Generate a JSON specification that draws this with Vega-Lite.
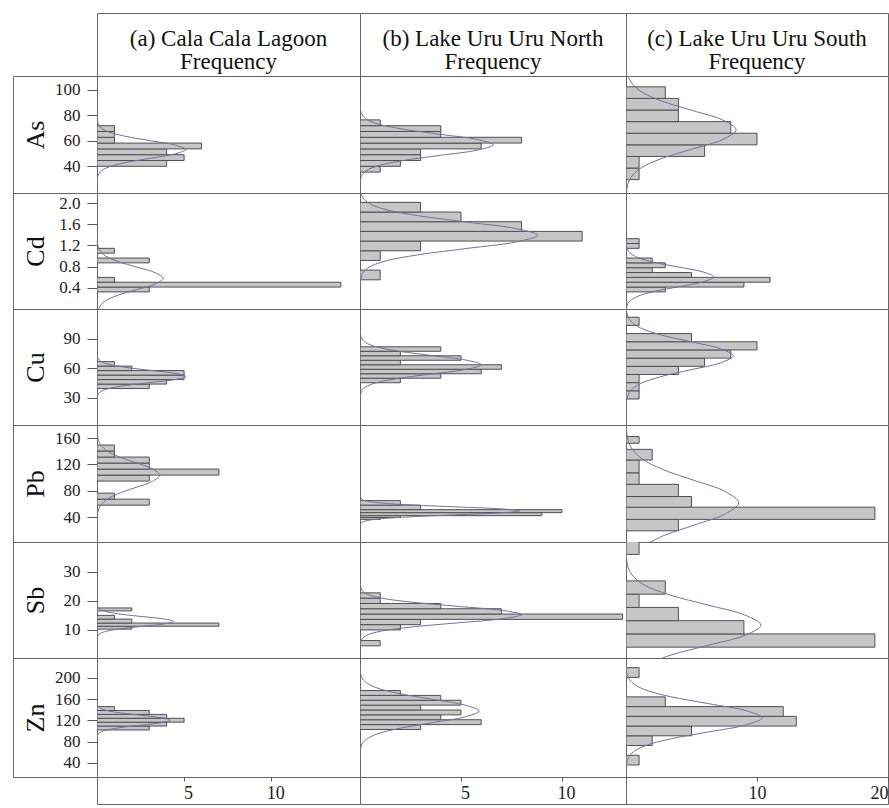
{
"$schema":"https://vega.github.io/schema/vega-lite/v6.json",
"padding":{"left":12,"top":12,"right":0,"bottom":0},
"columns":4,
"spacing":0,
"bounds":"flush",
"config":{
 "view":{"stroke":"#666666","strokeWidth":1},
 "concat":{"spacing":0},
 "font":"Liberation Serif",
 "axis":{"domain":false,"grid":false,"tickColor":"#555555","labelColor":"#222222","labelFont":"Liberation Serif","labelFontSize":17,"titleFont":"Liberation Serif","titleFontWeight":"normal","titleColor":"#111111"},
 "axisY":{"tickSize":10,"labelPadding":7,"titleFontSize":26,"titleX":-54,"titleBaseline":"alphabetic"},
 "axisX":{"tickSize":4,"labelPadding":3,"labelFontSize":18}
},
"datasets":{
"bars":[
{"s":"a","e":"As","y0":37.5,"y1":42.5,"n":4},{"s":"a","e":"As","y0":42.5,"y1":47.5,"n":5},{"s":"a","e":"As","y0":47.5,"y1":52.5,"n":4},{"s":"a","e":"As","y0":52.5,"y1":57.5,"n":6},{"s":"a","e":"As","y0":57.5,"y1":62.5,"n":1},{"s":"a","e":"As","y0":62.5,"y1":67.5,"n":1},{"s":"a","e":"As","y0":67.5,"y1":72.5,"n":1},
{"s":"a","e":"Cd","y0":0.25,"y1":0.35,"n":3},{"s":"a","e":"Cd","y0":0.35,"y1":0.45,"n":14},{"s":"a","e":"Cd","y0":0.45,"y1":0.55,"n":1},{"s":"a","e":"Cd","y0":0.85,"y1":0.95,"n":3},{"s":"a","e":"Cd","y0":1.05,"y1":1.15,"n":1},
{"s":"a","e":"Cu","y0":37.5,"y1":42.5,"n":3},{"s":"a","e":"Cu","y0":42.5,"y1":47.5,"n":4},{"s":"a","e":"Cu","y0":47.5,"y1":52.5,"n":5},{"s":"a","e":"Cu","y0":52.5,"y1":57.5,"n":5},{"s":"a","e":"Cu","y0":57.5,"y1":62.5,"n":2},{"s":"a","e":"Cu","y0":62.5,"y1":67.5,"n":1},
{"s":"a","e":"Pb","y0":55,"y1":65,"n":3},{"s":"a","e":"Pb","y0":65,"y1":75,"n":1},{"s":"a","e":"Pb","y0":95,"y1":105,"n":3},{"s":"a","e":"Pb","y0":105,"y1":115,"n":7},{"s":"a","e":"Pb","y0":115,"y1":125,"n":3},{"s":"a","e":"Pb","y0":125,"y1":135,"n":3},{"s":"a","e":"Pb","y0":135,"y1":145,"n":1},{"s":"a","e":"Pb","y0":145,"y1":155,"n":1},
{"s":"a","e":"Sb","y0":9.3,"y1":10.4,"n":2},{"s":"a","e":"Sb","y0":10.4,"y1":11.6,"n":7},{"s":"a","e":"Sb","y0":11.6,"y1":13.1,"n":2},{"s":"a","e":"Sb","y0":13.1,"y1":14.5,"n":1},{"s":"a","e":"Sb","y0":16.2,"y1":17.3,"n":2},
{"s":"a","e":"Zn","y0":100,"y1":108,"n":3},{"s":"a","e":"Zn","y0":108,"y1":116,"n":4},{"s":"a","e":"Zn","y0":116,"y1":124,"n":5},{"s":"a","e":"Zn","y0":124,"y1":132,"n":4},{"s":"a","e":"Zn","y0":132,"y1":140,"n":3},{"s":"a","e":"Zn","y0":140,"y1":148,"n":1},
{"s":"b","e":"As","y0":32.5,"y1":37.5,"n":1},{"s":"b","e":"As","y0":37.5,"y1":42.5,"n":2},{"s":"b","e":"As","y0":42.5,"y1":47.5,"n":3},{"s":"b","e":"As","y0":47.5,"y1":52.5,"n":3},{"s":"b","e":"As","y0":52.5,"y1":57.5,"n":6},{"s":"b","e":"As","y0":57.5,"y1":62.5,"n":8},{"s":"b","e":"As","y0":62.5,"y1":67.5,"n":4},{"s":"b","e":"As","y0":67.5,"y1":72.5,"n":4},{"s":"b","e":"As","y0":72.5,"y1":77.5,"n":1},
{"s":"b","e":"Cd","y0":0.5,"y1":0.7,"n":1},{"s":"b","e":"Cd","y0":0.9,"y1":1.1,"n":1},{"s":"b","e":"Cd","y0":1.1,"y1":1.3,"n":3},{"s":"b","e":"Cd","y0":1.3,"y1":1.5,"n":11},{"s":"b","e":"Cd","y0":1.5,"y1":1.7,"n":8},{"s":"b","e":"Cd","y0":1.7,"y1":1.9,"n":5},{"s":"b","e":"Cd","y0":1.9,"y1":2.1,"n":3},
{"s":"b","e":"Cu","y0":44,"y1":49,"n":2},{"s":"b","e":"Cu","y0":49,"y1":54,"n":4},{"s":"b","e":"Cu","y0":54,"y1":59,"n":6},{"s":"b","e":"Cu","y0":59,"y1":64,"n":7},{"s":"b","e":"Cu","y0":64,"y1":69,"n":2},{"s":"b","e":"Cu","y0":69,"y1":74,"n":5},{"s":"b","e":"Cu","y0":74,"y1":79,"n":2},{"s":"b","e":"Cu","y0":79,"y1":84,"n":4},
{"s":"b","e":"Pb","y0":31.3,"y1":34.4,"n":1},{"s":"b","e":"Pb","y0":34.4,"y1":37.5,"n":2},{"s":"b","e":"Pb","y0":37.5,"y1":42.5,"n":9},{"s":"b","e":"Pb","y0":42.5,"y1":47.5,"n":10},{"s":"b","e":"Pb","y0":47.5,"y1":55,"n":3},{"s":"b","e":"Pb","y0":55,"y1":62.5,"n":2},
{"s":"b","e":"Sb","y0":3,"y1":5,"n":1},{"s":"b","e":"Sb","y0":9,"y1":11,"n":2},{"s":"b","e":"Sb","y0":11,"y1":13,"n":3},{"s":"b","e":"Sb","y0":13,"y1":15,"n":13},{"s":"b","e":"Sb","y0":15,"y1":17,"n":7},{"s":"b","e":"Sb","y0":17,"y1":19,"n":4},{"s":"b","e":"Sb","y0":19,"y1":21,"n":1},{"s":"b","e":"Sb","y0":21,"y1":23,"n":1},
{"s":"b","e":"Zn","y0":101,"y1":111,"n":3},{"s":"b","e":"Zn","y0":111,"y1":121,"n":6},{"s":"b","e":"Zn","y0":121,"y1":131,"n":4},{"s":"b","e":"Zn","y0":131,"y1":141,"n":5},{"s":"b","e":"Zn","y0":141,"y1":151,"n":3},{"s":"b","e":"Zn","y0":151,"y1":161,"n":5},{"s":"b","e":"Zn","y0":161,"y1":171,"n":4},{"s":"b","e":"Zn","y0":171,"y1":181,"n":2},
{"s":"c","e":"As","y0":26,"y1":36,"n":1},{"s":"c","e":"As","y0":36,"y1":46,"n":1},{"s":"c","e":"As","y0":46,"y1":56,"n":6},{"s":"c","e":"As","y0":56,"y1":66,"n":10},{"s":"c","e":"As","y0":66,"y1":76,"n":8},{"s":"c","e":"As","y0":76,"y1":86,"n":4},{"s":"c","e":"As","y0":86,"y1":96,"n":4},{"s":"c","e":"As","y0":96,"y1":106,"n":3},
{"s":"c","e":"Cd","y0":0.25,"y1":0.35,"n":3},{"s":"c","e":"Cd","y0":0.35,"y1":0.45,"n":9},{"s":"c","e":"Cd","y0":0.45,"y1":0.55,"n":11},{"s":"c","e":"Cd","y0":0.55,"y1":0.65,"n":5},{"s":"c","e":"Cd","y0":0.65,"y1":0.75,"n":2},{"s":"c","e":"Cd","y0":0.75,"y1":0.85,"n":3},{"s":"c","e":"Cd","y0":0.85,"y1":0.95,"n":2},{"s":"c","e":"Cd","y0":1.15,"y1":1.25,"n":1},{"s":"c","e":"Cd","y0":1.25,"y1":1.35,"n":1},
{"s":"c","e":"Cu","y0":25.9,"y1":35,"n":1},{"s":"c","e":"Cu","y0":35,"y1":44.1,"n":1},{"s":"c","e":"Cu","y0":44.1,"y1":53.2,"n":1},{"s":"c","e":"Cu","y0":53.2,"y1":62.3,"n":4},{"s":"c","e":"Cu","y0":62.3,"y1":71.4,"n":6},{"s":"c","e":"Cu","y0":71.4,"y1":80.5,"n":8},{"s":"c","e":"Cu","y0":80.5,"y1":89.6,"n":10},{"s":"c","e":"Cu","y0":89.6,"y1":98.7,"n":5},{"s":"c","e":"Cu","y0":107.8,"y1":116.9,"n":1},
{"s":"c","e":"Pb","y0":12.3,"y1":31.3,"n":4},{"s":"c","e":"Pb","y0":31.3,"y1":51.6,"n":19},{"s":"c","e":"Pb","y0":51.6,"y1":69.3,"n":5},{"s":"c","e":"Pb","y0":69.3,"y1":89.6,"n":4},{"s":"c","e":"Pb","y0":89.6,"y1":108.8,"n":1},{"s":"c","e":"Pb","y0":108.8,"y1":130.1,"n":1},{"s":"c","e":"Pb","y0":130.1,"y1":147.8,"n":2},{"s":"c","e":"Pb","y0":158,"y1":169.1,"n":1},
{"s":"c","e":"Sb","y0":2.5,"y1":7.5,"n":19},{"s":"c","e":"Sb","y0":7.5,"y1":12.5,"n":9},{"s":"c","e":"Sb","y0":12.5,"y1":17.5,"n":4},{"s":"c","e":"Sb","y0":17.5,"y1":22.5,"n":1},{"s":"c","e":"Sb","y0":22.5,"y1":27.5,"n":3},{"s":"c","e":"Sb","y0":37.5,"y1":42.5,"n":1},
{"s":"c","e":"Zn","y0":28,"y1":48,"n":1},{"s":"c","e":"Zn","y0":68,"y1":88,"n":2},{"s":"c","e":"Zn","y0":88,"y1":108,"n":5},{"s":"c","e":"Zn","y0":108,"y1":128,"n":13},{"s":"c","e":"Zn","y0":128,"y1":148,"n":12},{"s":"c","e":"Zn","y0":148,"y1":168,"n":3},{"s":"c","e":"Zn","y0":208,"y1":228,"n":1}
],
"curves":[
{"s":"a","e":"As","v":22,"f":0},{"s":"a","e":"As","v":29.5,"f":0.06},{"s":"a","e":"As","v":33.25,"f":0.22},{"s":"a","e":"As","v":37,"f":0.69},{"s":"a","e":"As","v":40.75,"f":1.66},{"s":"a","e":"As","v":44.5,"f":3.09},{"s":"a","e":"As","v":48.25,"f":4.5},{"s":"a","e":"As","v":52,"f":5.1},{"s":"a","e":"As","v":55.75,"f":4.5},{"s":"a","e":"As","v":59.5,"f":3.09},{"s":"a","e":"As","v":63.25,"f":1.66},{"s":"a","e":"As","v":67,"f":0.69},{"s":"a","e":"As","v":70.75,"f":0.22},{"s":"a","e":"As","v":74.5,"f":0.06},{"s":"a","e":"As","v":82,"f":0},
{"s":"a","e":"Cd","v":-0.39,"f":0},{"s":"a","e":"Cd","v":-0.16,"f":0.04},{"s":"a","e":"Cd","v":-0.045,"f":0.17},{"s":"a","e":"Cd","v":0.07,"f":0.51},{"s":"a","e":"Cd","v":0.185,"f":1.23},{"s":"a","e":"Cd","v":0.3,"f":2.31},{"s":"a","e":"Cd","v":0.415,"f":3.35},{"s":"a","e":"Cd","v":0.53,"f":3.8},{"s":"a","e":"Cd","v":0.645,"f":3.35},{"s":"a","e":"Cd","v":0.76,"f":2.31},{"s":"a","e":"Cd","v":0.875,"f":1.23},{"s":"a","e":"Cd","v":0.99,"f":0.51},{"s":"a","e":"Cd","v":1.105,"f":0.17},{"s":"a","e":"Cd","v":1.22,"f":0.04},{"s":"a","e":"Cd","v":1.45,"f":0},
{"s":"a","e":"Cu","v":24.2,"f":0},{"s":"a","e":"Cu","v":30.9,"f":0.06},{"s":"a","e":"Cu","v":34.25,"f":0.22},{"s":"a","e":"Cu","v":37.6,"f":0.69},{"s":"a","e":"Cu","v":40.95,"f":1.66},{"s":"a","e":"Cu","v":44.3,"f":3.09},{"s":"a","e":"Cu","v":47.65,"f":4.5},{"s":"a","e":"Cu","v":51,"f":5.1},{"s":"a","e":"Cu","v":54.35,"f":4.5},{"s":"a","e":"Cu","v":57.7,"f":3.09},{"s":"a","e":"Cu","v":61.05,"f":1.66},{"s":"a","e":"Cu","v":64.4,"f":0.69},{"s":"a","e":"Cu","v":67.75,"f":0.22},{"s":"a","e":"Cu","v":71.1,"f":0.06},{"s":"a","e":"Cu","v":77.8,"f":0},
{"s":"a","e":"Pb","v":21,"f":0},{"s":"a","e":"Pb","v":42,"f":0.04},{"s":"a","e":"Pb","v":52.5,"f":0.16},{"s":"a","e":"Pb","v":63,"f":0.49},{"s":"a","e":"Pb","v":73.5,"f":1.17},{"s":"a","e":"Pb","v":84,"f":2.18},{"s":"a","e":"Pb","v":94.5,"f":3.18},{"s":"a","e":"Pb","v":105,"f":3.6},{"s":"a","e":"Pb","v":115.5,"f":3.18},{"s":"a","e":"Pb","v":126,"f":2.18},{"s":"a","e":"Pb","v":136.5,"f":1.17},{"s":"a","e":"Pb","v":147,"f":0.49},{"s":"a","e":"Pb","v":157.5,"f":0.16},{"s":"a","e":"Pb","v":168,"f":0.04},{"s":"a","e":"Pb","v":189,"f":0},
{"s":"a","e":"Sb","v":5,"f":0},{"s":"a","e":"Sb","v":6.8,"f":0.05},{"s":"a","e":"Sb","v":7.7,"f":0.19},{"s":"a","e":"Sb","v":8.6,"f":0.6},{"s":"a","e":"Sb","v":9.5,"f":1.43},{"s":"a","e":"Sb","v":10.4,"f":2.67},{"s":"a","e":"Sb","v":11.3,"f":3.88},{"s":"a","e":"Sb","v":12.2,"f":4.4},{"s":"a","e":"Sb","v":13.1,"f":3.88},{"s":"a","e":"Sb","v":14,"f":2.67},{"s":"a","e":"Sb","v":14.9,"f":1.43},{"s":"a","e":"Sb","v":15.8,"f":0.6},{"s":"a","e":"Sb","v":16.7,"f":0.19},{"s":"a","e":"Sb","v":17.6,"f":0.05},{"s":"a","e":"Sb","v":19.4,"f":0},
{"s":"a","e":"Zn","v":80,"f":0},{"s":"a","e":"Zn","v":90,"f":0.05},{"s":"a","e":"Zn","v":95,"f":0.18},{"s":"a","e":"Zn","v":100,"f":0.57},{"s":"a","e":"Zn","v":105,"f":1.37},{"s":"a","e":"Zn","v":110,"f":2.55},{"s":"a","e":"Zn","v":115,"f":3.7},{"s":"a","e":"Zn","v":120,"f":4.2},{"s":"a","e":"Zn","v":125,"f":3.7},{"s":"a","e":"Zn","v":130,"f":2.55},{"s":"a","e":"Zn","v":135,"f":1.37},{"s":"a","e":"Zn","v":140,"f":0.57},{"s":"a","e":"Zn","v":145,"f":0.18},{"s":"a","e":"Zn","v":150,"f":0.05},{"s":"a","e":"Zn","v":160,"f":0},
{"s":"b","e":"As","v":20,"f":0},{"s":"b","e":"As","v":29,"f":0.07},{"s":"b","e":"As","v":33.5,"f":0.29},{"s":"b","e":"As","v":38,"f":0.89},{"s":"b","e":"As","v":42.5,"f":2.15},{"s":"b","e":"As","v":47,"f":4},{"s":"b","e":"As","v":51.5,"f":5.82},{"s":"b","e":"As","v":56,"f":6.6},{"s":"b","e":"As","v":60.5,"f":5.82},{"s":"b","e":"As","v":65,"f":4},{"s":"b","e":"As","v":69.5,"f":2.15},{"s":"b","e":"As","v":74,"f":0.89},{"s":"b","e":"As","v":78.5,"f":0.29},{"s":"b","e":"As","v":83,"f":0.07},{"s":"b","e":"As","v":92,"f":0},
{"s":"b","e":"Cd","v":0.34,"f":0},{"s":"b","e":"Cd","v":0.61,"f":0.1},{"s":"b","e":"Cd","v":0.745,"f":0.39},{"s":"b","e":"Cd","v":0.88,"f":1.19},{"s":"b","e":"Cd","v":1.015,"f":2.86},{"s":"b","e":"Cd","v":1.15,"f":5.34},{"s":"b","e":"Cd","v":1.285,"f":7.76},{"s":"b","e":"Cd","v":1.42,"f":8.8},{"s":"b","e":"Cd","v":1.555,"f":7.76},{"s":"b","e":"Cd","v":1.69,"f":5.34},{"s":"b","e":"Cd","v":1.825,"f":2.86},{"s":"b","e":"Cd","v":1.96,"f":1.19},{"s":"b","e":"Cd","v":2.095,"f":0.39},{"s":"b","e":"Cd","v":2.23,"f":0.1},{"s":"b","e":"Cd","v":2.5,"f":0},
{"s":"b","e":"Cu","v":24,"f":0},{"s":"b","e":"Cu","v":34,"f":0.07},{"s":"b","e":"Cu","v":39,"f":0.26},{"s":"b","e":"Cu","v":44,"f":0.81},{"s":"b","e":"Cu","v":49,"f":1.95},{"s":"b","e":"Cu","v":54,"f":3.64},{"s":"b","e":"Cu","v":59,"f":5.29},{"s":"b","e":"Cu","v":64,"f":6},{"s":"b","e":"Cu","v":69,"f":5.29},{"s":"b","e":"Cu","v":74,"f":3.64},{"s":"b","e":"Cu","v":79,"f":1.95},{"s":"b","e":"Cu","v":84,"f":0.81},{"s":"b","e":"Cu","v":89,"f":0.26},{"s":"b","e":"Cu","v":94,"f":0.07},{"s":"b","e":"Cu","v":104,"f":0},
{"s":"b","e":"Pb","v":19.5,"f":0},{"s":"b","e":"Pb","v":26,"f":0.09},{"s":"b","e":"Pb","v":29.25,"f":0.35},{"s":"b","e":"Pb","v":32.5,"f":1.07},{"s":"b","e":"Pb","v":35.75,"f":2.57},{"s":"b","e":"Pb","v":39,"f":4.8},{"s":"b","e":"Pb","v":42.25,"f":6.97},{"s":"b","e":"Pb","v":45.5,"f":7.9},{"s":"b","e":"Pb","v":48.75,"f":6.97},{"s":"b","e":"Pb","v":52,"f":4.8},{"s":"b","e":"Pb","v":55.25,"f":2.57},{"s":"b","e":"Pb","v":58.5,"f":1.07},{"s":"b","e":"Pb","v":61.75,"f":0.35},{"s":"b","e":"Pb","v":65,"f":0.09},{"s":"b","e":"Pb","v":71.5,"f":0},
{"s":"b","e":"Sb","v":2.4,"f":0},{"s":"b","e":"Sb","v":5.5,"f":0.09},{"s":"b","e":"Sb","v":7.05,"f":0.35},{"s":"b","e":"Sb","v":8.6,"f":1.08},{"s":"b","e":"Sb","v":10.15,"f":2.6},{"s":"b","e":"Sb","v":11.7,"f":4.86},{"s":"b","e":"Sb","v":13.25,"f":7.06},{"s":"b","e":"Sb","v":14.8,"f":8},{"s":"b","e":"Sb","v":16.35,"f":7.06},{"s":"b","e":"Sb","v":17.9,"f":4.86},{"s":"b","e":"Sb","v":19.45,"f":2.6},{"s":"b","e":"Sb","v":21,"f":1.08},{"s":"b","e":"Sb","v":22.55,"f":0.35},{"s":"b","e":"Sb","v":24.1,"f":0.09},{"s":"b","e":"Sb","v":27.2,"f":0},
{"s":"b","e":"Zn","v":43,"f":0},{"s":"b","e":"Zn","v":67,"f":0.06},{"s":"b","e":"Zn","v":79,"f":0.26},{"s":"b","e":"Zn","v":91,"f":0.8},{"s":"b","e":"Zn","v":103,"f":1.92},{"s":"b","e":"Zn","v":115,"f":3.58},{"s":"b","e":"Zn","v":127,"f":5.2},{"s":"b","e":"Zn","v":139,"f":5.9},{"s":"b","e":"Zn","v":151,"f":5.2},{"s":"b","e":"Zn","v":163,"f":3.58},{"s":"b","e":"Zn","v":175,"f":1.92},{"s":"b","e":"Zn","v":187,"f":0.8},{"s":"b","e":"Zn","v":199,"f":0.26},{"s":"b","e":"Zn","v":211,"f":0.06},{"s":"b","e":"Zn","v":235,"f":0},
{"s":"c","e":"As","v":3,"f":0},{"s":"c","e":"As","v":19.5,"f":0.09},{"s":"c","e":"As","v":27.75,"f":0.37},{"s":"c","e":"As","v":36,"f":1.14},{"s":"c","e":"As","v":44.25,"f":2.73},{"s":"c","e":"As","v":52.5,"f":5.1},{"s":"c","e":"As","v":60.75,"f":7.41},{"s":"c","e":"As","v":69,"f":8.4},{"s":"c","e":"As","v":77.25,"f":7.41},{"s":"c","e":"As","v":85.5,"f":5.1},{"s":"c","e":"As","v":93.75,"f":2.73},{"s":"c","e":"As","v":102,"f":1.14},{"s":"c","e":"As","v":110.25,"f":0.37},{"s":"c","e":"As","v":118.5,"f":0.09},{"s":"c","e":"As","v":135,"f":0},
{"s":"c","e":"Cd","v":-0.24,"f":0},{"s":"c","e":"Cd","v":-0.04,"f":0.07},{"s":"c","e":"Cd","v":0.06,"f":0.29},{"s":"c","e":"Cd","v":0.16,"f":0.9},{"s":"c","e":"Cd","v":0.26,"f":2.18},{"s":"c","e":"Cd","v":0.36,"f":4.07},{"s":"c","e":"Cd","v":0.46,"f":5.91},{"s":"c","e":"Cd","v":0.56,"f":6.7},{"s":"c","e":"Cd","v":0.66,"f":5.91},{"s":"c","e":"Cd","v":0.76,"f":4.07},{"s":"c","e":"Cd","v":0.86,"f":2.18},{"s":"c","e":"Cd","v":0.96,"f":0.9},{"s":"c","e":"Cd","v":1.06,"f":0.29},{"s":"c","e":"Cd","v":1.16,"f":0.07},{"s":"c","e":"Cd","v":1.36,"f":0},
{"s":"c","e":"Cu","v":12,"f":0},{"s":"c","e":"Cu","v":27.5,"f":0.09},{"s":"c","e":"Cu","v":35.25,"f":0.36},{"s":"c","e":"Cu","v":43,"f":1.11},{"s":"c","e":"Cu","v":50.75,"f":2.66},{"s":"c","e":"Cu","v":58.5,"f":4.98},{"s":"c","e":"Cu","v":66.25,"f":7.23},{"s":"c","e":"Cu","v":74,"f":8.2},{"s":"c","e":"Cu","v":81.75,"f":7.23},{"s":"c","e":"Cu","v":89.5,"f":4.98},{"s":"c","e":"Cu","v":97.25,"f":2.66},{"s":"c","e":"Cu","v":105,"f":1.11},{"s":"c","e":"Cu","v":112.75,"f":0.36},{"s":"c","e":"Cu","v":120.5,"f":0.09},{"s":"c","e":"Cu","v":136,"f":0},
{"s":"c","e":"Pb","v":-15,"f":1.16},{"s":"c","e":"Pb","v":3.5,"f":2.79},{"s":"c","e":"Pb","v":22,"f":5.22},{"s":"c","e":"Pb","v":40.5,"f":7.59},{"s":"c","e":"Pb","v":59,"f":8.6},{"s":"c","e":"Pb","v":77.5,"f":7.59},{"s":"c","e":"Pb","v":96,"f":5.22},{"s":"c","e":"Pb","v":114.5,"f":2.79},{"s":"c","e":"Pb","v":133,"f":1.16},{"s":"c","e":"Pb","v":151.5,"f":0.38},{"s":"c","e":"Pb","v":170,"f":0.09},{"s":"c","e":"Pb","v":207,"f":0},
{"s":"c","e":"Sb","v":-4.4,"f":1.39},{"s":"c","e":"Sb","v":-0.6,"f":3.34},{"s":"c","e":"Sb","v":3.2,"f":6.25},{"s":"c","e":"Sb","v":7,"f":9.09},{"s":"c","e":"Sb","v":10.8,"f":10.3},{"s":"c","e":"Sb","v":14.6,"f":9.09},{"s":"c","e":"Sb","v":18.4,"f":6.25},{"s":"c","e":"Sb","v":22.2,"f":3.34},{"s":"c","e":"Sb","v":26,"f":1.39},{"s":"c","e":"Sb","v":29.8,"f":0.45},{"s":"c","e":"Sb","v":33.6,"f":0.11},{"s":"c","e":"Sb","v":41.2,"f":0},
{"s":"c","e":"Zn","v":9,"f":0},{"s":"c","e":"Zn","v":38,"f":0.11},{"s":"c","e":"Zn","v":52.5,"f":0.46},{"s":"c","e":"Zn","v":67,"f":1.41},{"s":"c","e":"Zn","v":81.5,"f":3.38},{"s":"c","e":"Zn","v":96,"f":6.31},{"s":"c","e":"Zn","v":110.5,"f":9.17},{"s":"c","e":"Zn","v":125,"f":10.4},{"s":"c","e":"Zn","v":139.5,"f":9.17},{"s":"c","e":"Zn","v":154,"f":6.31},{"s":"c","e":"Zn","v":168.5,"f":3.38},{"s":"c","e":"Zn","v":183,"f":1.41},{"s":"c","e":"Zn","v":197.5,"f":0.46},{"s":"c","e":"Zn","v":212,"f":0.11},{"s":"c","e":"Zn","v":241,"f":0}
]
},
"concat":[
 {"width":84,"height":63,"view":{"stroke":null},"data":{"values":[{"t":""}]},"mark":"text","encoding":{"text":{"field":"t"}}},
 {"width":263,"height":63,"data":{"values":[{"t":"(a) Cala Cala Lagoon\nFrequency","k":"h"}]},"mark":{"type":"text","font":"Liberation Serif","fontSize":23,"lineBreak":"\n","lineHeight":23,"baseline":"alphabetic","dy":1,"color":"#111111"},"encoding":{"text":{"field":"t"},"y":{"field":"k","type":"nominal","axis":null}}},
 {"width":266,"height":63,"data":{"values":[{"t":"(b) Lake Uru Uru North\nFrequency","k":"h"}]},"mark":{"type":"text","font":"Liberation Serif","fontSize":23,"lineBreak":"\n","lineHeight":23,"baseline":"alphabetic","dy":1,"color":"#111111"},"encoding":{"text":{"field":"t"},"y":{"field":"k","type":"nominal","axis":null}}},
 {"width":262,"height":63,"data":{"values":[{"t":"(c) Lake Uru Uru South\nFrequency","k":"h"}]},"mark":{"type":"text","font":"Liberation Serif","fontSize":23,"lineBreak":"\n","lineHeight":23,"baseline":"alphabetic","dy":1,"color":"#111111"},"encoding":{"text":{"field":"t"},"y":{"field":"k","type":"nominal","axis":null}}},

 {"width":84,"height":117,"data":{"name":"bars"},"transform":[{"filter":"datum.e=='As'"}],"mark":{"type":"point","opacity":0},"encoding":{"y":{"field":"y0","type":"quantitative","scale":{"domain":[18.8,111],"nice":false,"zero":false},"axis":{"title":"As","values":[40,60,80,100],"offset":-84}}}},
 {"width":263,"height":117,"layer":[
  {"data":{"name":"bars"},"transform":[{"filter":"datum.s=='a'&&datum.e=='As'"}],"mark":{"type":"bar","orient":"horizontal","fill":"#c6c6c6","stroke":"#505050","strokeWidth":1,"clip":true},"encoding":{"y":{"field":"y0","type":"quantitative","scale":{"domain":[18.8,111],"nice":false,"zero":false},"axis":null},"y2":{"field":"y1"},"x":{"field":"n","type":"quantitative","scale":{"domain":[0,15.1],"nice":false},"axis":null}}},
  {"data":{"name":"curves"},"transform":[{"filter":"datum.s=='a'&&datum.e=='As'"}],"mark":{"type":"line","interpolate":"catmull-rom","stroke":"#7171a0","strokeWidth":1,"clip":true},"encoding":{"y":{"field":"v","type":"quantitative","axis":null},"x":{"field":"f","type":"quantitative","axis":null},"order":{"field":"v","type":"quantitative"}}}]},
 {"width":266,"height":117,"layer":[
  {"data":{"name":"bars"},"transform":[{"filter":"datum.s=='b'&&datum.e=='As'"}],"mark":{"type":"bar","orient":"horizontal","fill":"#c6c6c6","stroke":"#505050","strokeWidth":1,"clip":true},"encoding":{"y":{"field":"y0","type":"quantitative","scale":{"domain":[18.8,111],"nice":false,"zero":false},"axis":null},"y2":{"field":"y1"},"x":{"field":"n","type":"quantitative","scale":{"domain":[0,13.17],"nice":false},"axis":null}}},
  {"data":{"name":"curves"},"transform":[{"filter":"datum.s=='b'&&datum.e=='As'"}],"mark":{"type":"line","interpolate":"catmull-rom","stroke":"#7171a0","strokeWidth":1,"clip":true},"encoding":{"y":{"field":"v","type":"quantitative","axis":null},"x":{"field":"f","type":"quantitative","axis":null},"order":{"field":"v","type":"quantitative"}}}]},
 {"width":262,"height":117,"layer":[
  {"data":{"name":"bars"},"transform":[{"filter":"datum.s=='c'&&datum.e=='As'"}],"mark":{"type":"bar","orient":"horizontal","fill":"#c6c6c6","stroke":"#505050","strokeWidth":1,"clip":true},"encoding":{"y":{"field":"y0","type":"quantitative","scale":{"domain":[18.8,111],"nice":false,"zero":false},"axis":null},"y2":{"field":"y1"},"x":{"field":"n","type":"quantitative","scale":{"domain":[0,20],"nice":false},"axis":null}}},
  {"data":{"name":"curves"},"transform":[{"filter":"datum.s=='c'&&datum.e=='As'"}],"mark":{"type":"line","interpolate":"catmull-rom","stroke":"#7171a0","strokeWidth":1,"clip":true},"encoding":{"y":{"field":"v","type":"quantitative","axis":null},"x":{"field":"f","type":"quantitative","axis":null},"order":{"field":"v","type":"quantitative"}}}]},

 {"width":84,"height":116,"data":{"name":"bars"},"transform":[{"filter":"datum.e=='Cd'"}],"mark":{"type":"point","opacity":0},"encoding":{"y":{"field":"y0","type":"quantitative","scale":{"domain":[0,2.19],"nice":false,"zero":false},"axis":{"title":"Cd","values":[0.4,0.8,1.2,1.6,2.0],"format":".1f","offset":-84}}}},
 {"width":263,"height":116,"layer":[
  {"data":{"name":"bars"},"transform":[{"filter":"datum.s=='a'&&datum.e=='Cd'"}],"mark":{"type":"bar","orient":"horizontal","fill":"#c6c6c6","stroke":"#505050","strokeWidth":1,"clip":true},"encoding":{"y":{"field":"y0","type":"quantitative","scale":{"domain":[0,2.19],"nice":false,"zero":false},"axis":null},"y2":{"field":"y1"},"x":{"field":"n","type":"quantitative","scale":{"domain":[0,15.1],"nice":false},"axis":null}}},
  {"data":{"name":"curves"},"transform":[{"filter":"datum.s=='a'&&datum.e=='Cd'"}],"mark":{"type":"line","interpolate":"catmull-rom","stroke":"#7171a0","strokeWidth":1,"clip":true},"encoding":{"y":{"field":"v","type":"quantitative","axis":null},"x":{"field":"f","type":"quantitative","axis":null},"order":{"field":"v","type":"quantitative"}}}]},
 {"width":266,"height":116,"layer":[
  {"data":{"name":"bars"},"transform":[{"filter":"datum.s=='b'&&datum.e=='Cd'"}],"mark":{"type":"bar","orient":"horizontal","fill":"#c6c6c6","stroke":"#505050","strokeWidth":1,"clip":true},"encoding":{"y":{"field":"y0","type":"quantitative","scale":{"domain":[0,2.19],"nice":false,"zero":false},"axis":null},"y2":{"field":"y1"},"x":{"field":"n","type":"quantitative","scale":{"domain":[0,13.17],"nice":false},"axis":null}}},
  {"data":{"name":"curves"},"transform":[{"filter":"datum.s=='b'&&datum.e=='Cd'"}],"mark":{"type":"line","interpolate":"catmull-rom","stroke":"#7171a0","strokeWidth":1,"clip":true},"encoding":{"y":{"field":"v","type":"quantitative","axis":null},"x":{"field":"f","type":"quantitative","axis":null},"order":{"field":"v","type":"quantitative"}}}]},
 {"width":262,"height":116,"layer":[
  {"data":{"name":"bars"},"transform":[{"filter":"datum.s=='c'&&datum.e=='Cd'"}],"mark":{"type":"bar","orient":"horizontal","fill":"#c6c6c6","stroke":"#505050","strokeWidth":1,"clip":true},"encoding":{"y":{"field":"y0","type":"quantitative","scale":{"domain":[0,2.19],"nice":false,"zero":false},"axis":null},"y2":{"field":"y1"},"x":{"field":"n","type":"quantitative","scale":{"domain":[0,20],"nice":false},"axis":null}}},
  {"data":{"name":"curves"},"transform":[{"filter":"datum.s=='c'&&datum.e=='Cd'"}],"mark":{"type":"line","interpolate":"catmull-rom","stroke":"#7171a0","strokeWidth":1,"clip":true},"encoding":{"y":{"field":"v","type":"quantitative","axis":null},"x":{"field":"f","type":"quantitative","axis":null},"order":{"field":"v","type":"quantitative"}}}]},

 {"width":84,"height":116,"data":{"name":"bars"},"transform":[{"filter":"datum.e=='Cu'"}],"mark":{"type":"point","opacity":0},"encoding":{"y":{"field":"y0","type":"quantitative","scale":{"domain":[2.5,120.5],"nice":false,"zero":false},"axis":{"title":"Cu","values":[30,60,90],"offset":-84}}}},
 {"width":263,"height":116,"layer":[
  {"data":{"name":"bars"},"transform":[{"filter":"datum.s=='a'&&datum.e=='Cu'"}],"mark":{"type":"bar","orient":"horizontal","fill":"#c6c6c6","stroke":"#505050","strokeWidth":1,"clip":true},"encoding":{"y":{"field":"y0","type":"quantitative","scale":{"domain":[2.5,120.5],"nice":false,"zero":false},"axis":null},"y2":{"field":"y1"},"x":{"field":"n","type":"quantitative","scale":{"domain":[0,15.1],"nice":false},"axis":null}}},
  {"data":{"name":"curves"},"transform":[{"filter":"datum.s=='a'&&datum.e=='Cu'"}],"mark":{"type":"line","interpolate":"catmull-rom","stroke":"#7171a0","strokeWidth":1,"clip":true},"encoding":{"y":{"field":"v","type":"quantitative","axis":null},"x":{"field":"f","type":"quantitative","axis":null},"order":{"field":"v","type":"quantitative"}}}]},
 {"width":266,"height":116,"layer":[
  {"data":{"name":"bars"},"transform":[{"filter":"datum.s=='b'&&datum.e=='Cu'"}],"mark":{"type":"bar","orient":"horizontal","fill":"#c6c6c6","stroke":"#505050","strokeWidth":1,"clip":true},"encoding":{"y":{"field":"y0","type":"quantitative","scale":{"domain":[2.5,120.5],"nice":false,"zero":false},"axis":null},"y2":{"field":"y1"},"x":{"field":"n","type":"quantitative","scale":{"domain":[0,13.17],"nice":false},"axis":null}}},
  {"data":{"name":"curves"},"transform":[{"filter":"datum.s=='b'&&datum.e=='Cu'"}],"mark":{"type":"line","interpolate":"catmull-rom","stroke":"#7171a0","strokeWidth":1,"clip":true},"encoding":{"y":{"field":"v","type":"quantitative","axis":null},"x":{"field":"f","type":"quantitative","axis":null},"order":{"field":"v","type":"quantitative"}}}]},
 {"width":262,"height":116,"layer":[
  {"data":{"name":"bars"},"transform":[{"filter":"datum.s=='c'&&datum.e=='Cu'"}],"mark":{"type":"bar","orient":"horizontal","fill":"#c6c6c6","stroke":"#505050","strokeWidth":1,"clip":true},"encoding":{"y":{"field":"y0","type":"quantitative","scale":{"domain":[2.5,120.5],"nice":false,"zero":false},"axis":null},"y2":{"field":"y1"},"x":{"field":"n","type":"quantitative","scale":{"domain":[0,20],"nice":false},"axis":null}}},
  {"data":{"name":"curves"},"transform":[{"filter":"datum.s=='c'&&datum.e=='Cu'"}],"mark":{"type":"line","interpolate":"catmull-rom","stroke":"#7171a0","strokeWidth":1,"clip":true},"encoding":{"y":{"field":"v","type":"quantitative","axis":null},"x":{"field":"f","type":"quantitative","axis":null},"order":{"field":"v","type":"quantitative"}}}]},

 {"width":84,"height":117,"data":{"name":"bars"},"transform":[{"filter":"datum.e=='Pb'"}],"mark":{"type":"point","opacity":0},"encoding":{"y":{"field":"y0","type":"quantitative","scale":{"domain":[2,180],"nice":false,"zero":false},"axis":{"title":"Pb","values":[40,80,120,160],"offset":-84}}}},
 {"width":263,"height":117,"layer":[
  {"data":{"name":"bars"},"transform":[{"filter":"datum.s=='a'&&datum.e=='Pb'"}],"mark":{"type":"bar","orient":"horizontal","fill":"#c6c6c6","stroke":"#505050","strokeWidth":1,"clip":true},"encoding":{"y":{"field":"y0","type":"quantitative","scale":{"domain":[2,180],"nice":false,"zero":false},"axis":null},"y2":{"field":"y1"},"x":{"field":"n","type":"quantitative","scale":{"domain":[0,15.1],"nice":false},"axis":null}}},
  {"data":{"name":"curves"},"transform":[{"filter":"datum.s=='a'&&datum.e=='Pb'"}],"mark":{"type":"line","interpolate":"catmull-rom","stroke":"#7171a0","strokeWidth":1,"clip":true},"encoding":{"y":{"field":"v","type":"quantitative","axis":null},"x":{"field":"f","type":"quantitative","axis":null},"order":{"field":"v","type":"quantitative"}}}]},
 {"width":266,"height":117,"layer":[
  {"data":{"name":"bars"},"transform":[{"filter":"datum.s=='b'&&datum.e=='Pb'"}],"mark":{"type":"bar","orient":"horizontal","fill":"#c6c6c6","stroke":"#505050","strokeWidth":1,"clip":true},"encoding":{"y":{"field":"y0","type":"quantitative","scale":{"domain":[2,180],"nice":false,"zero":false},"axis":null},"y2":{"field":"y1"},"x":{"field":"n","type":"quantitative","scale":{"domain":[0,13.17],"nice":false},"axis":null}}},
  {"data":{"name":"curves"},"transform":[{"filter":"datum.s=='b'&&datum.e=='Pb'"}],"mark":{"type":"line","interpolate":"catmull-rom","stroke":"#7171a0","strokeWidth":1,"clip":true},"encoding":{"y":{"field":"v","type":"quantitative","axis":null},"x":{"field":"f","type":"quantitative","axis":null},"order":{"field":"v","type":"quantitative"}}}]},
 {"width":262,"height":117,"layer":[
  {"data":{"name":"bars"},"transform":[{"filter":"datum.s=='c'&&datum.e=='Pb'"}],"mark":{"type":"bar","orient":"horizontal","fill":"#c6c6c6","stroke":"#505050","strokeWidth":1,"clip":true},"encoding":{"y":{"field":"y0","type":"quantitative","scale":{"domain":[2,180],"nice":false,"zero":false},"axis":null},"y2":{"field":"y1"},"x":{"field":"n","type":"quantitative","scale":{"domain":[0,20],"nice":false},"axis":null}}},
  {"data":{"name":"curves"},"transform":[{"filter":"datum.s=='c'&&datum.e=='Pb'"}],"mark":{"type":"line","interpolate":"catmull-rom","stroke":"#7171a0","strokeWidth":1,"clip":true},"encoding":{"y":{"field":"v","type":"quantitative","axis":null},"x":{"field":"f","type":"quantitative","axis":null},"order":{"field":"v","type":"quantitative"}}}]},

 {"width":84,"height":116,"data":{"name":"bars"},"transform":[{"filter":"datum.e=='Sb'"}],"mark":{"type":"point","opacity":0},"encoding":{"y":{"field":"y0","type":"quantitative","scale":{"domain":[0.3,40.3],"nice":false,"zero":false},"axis":{"title":"Sb","values":[10,20,30],"offset":-84}}}},
 {"width":263,"height":116,"layer":[
  {"data":{"name":"bars"},"transform":[{"filter":"datum.s=='a'&&datum.e=='Sb'"}],"mark":{"type":"bar","orient":"horizontal","fill":"#c6c6c6","stroke":"#505050","strokeWidth":1,"clip":true},"encoding":{"y":{"field":"y0","type":"quantitative","scale":{"domain":[0.3,40.3],"nice":false,"zero":false},"axis":null},"y2":{"field":"y1"},"x":{"field":"n","type":"quantitative","scale":{"domain":[0,15.1],"nice":false},"axis":null}}},
  {"data":{"name":"curves"},"transform":[{"filter":"datum.s=='a'&&datum.e=='Sb'"}],"mark":{"type":"line","interpolate":"catmull-rom","stroke":"#7171a0","strokeWidth":1,"clip":true},"encoding":{"y":{"field":"v","type":"quantitative","axis":null},"x":{"field":"f","type":"quantitative","axis":null},"order":{"field":"v","type":"quantitative"}}}]},
 {"width":266,"height":116,"layer":[
  {"data":{"name":"bars"},"transform":[{"filter":"datum.s=='b'&&datum.e=='Sb'"}],"mark":{"type":"bar","orient":"horizontal","fill":"#c6c6c6","stroke":"#505050","strokeWidth":1,"clip":true},"encoding":{"y":{"field":"y0","type":"quantitative","scale":{"domain":[0.3,40.3],"nice":false,"zero":false},"axis":null},"y2":{"field":"y1"},"x":{"field":"n","type":"quantitative","scale":{"domain":[0,13.17],"nice":false},"axis":null}}},
  {"data":{"name":"curves"},"transform":[{"filter":"datum.s=='b'&&datum.e=='Sb'"}],"mark":{"type":"line","interpolate":"catmull-rom","stroke":"#7171a0","strokeWidth":1,"clip":true},"encoding":{"y":{"field":"v","type":"quantitative","axis":null},"x":{"field":"f","type":"quantitative","axis":null},"order":{"field":"v","type":"quantitative"}}}]},
 {"width":262,"height":116,"layer":[
  {"data":{"name":"bars"},"transform":[{"filter":"datum.s=='c'&&datum.e=='Sb'"}],"mark":{"type":"bar","orient":"horizontal","fill":"#c6c6c6","stroke":"#505050","strokeWidth":1,"clip":true},"encoding":{"y":{"field":"y0","type":"quantitative","scale":{"domain":[0.3,40.3],"nice":false,"zero":false},"axis":null},"y2":{"field":"y1"},"x":{"field":"n","type":"quantitative","scale":{"domain":[0,20],"nice":false},"axis":null}}},
  {"data":{"name":"curves"},"transform":[{"filter":"datum.s=='c'&&datum.e=='Sb'"}],"mark":{"type":"line","interpolate":"catmull-rom","stroke":"#7171a0","strokeWidth":1,"clip":true},"encoding":{"y":{"field":"v","type":"quantitative","axis":null},"x":{"field":"f","type":"quantitative","axis":null},"order":{"field":"v","type":"quantitative"}}}]},

 {"width":84,"height":119,"data":{"name":"bars"},"transform":[{"filter":"datum.e=='Zn'"}],"mark":{"type":"point","opacity":0},"encoding":{"y":{"field":"y0","type":"quantitative","scale":{"domain":[13.6,237.6],"nice":false,"zero":false},"axis":{"title":"Zn","values":[40,80,120,160,200],"offset":-84}}}},
 {"width":263,"height":119,"layer":[
  {"data":{"name":"bars"},"transform":[{"filter":"datum.s=='a'&&datum.e=='Zn'"}],"mark":{"type":"bar","orient":"horizontal","fill":"#c6c6c6","stroke":"#505050","strokeWidth":1,"clip":true},"encoding":{"y":{"field":"y0","type":"quantitative","scale":{"domain":[13.6,237.6],"nice":false,"zero":false},"axis":null},"y2":{"field":"y1"},"x":{"field":"n","type":"quantitative","scale":{"domain":[0,15.1],"nice":false},"axis":null}}},
  {"data":{"name":"curves"},"transform":[{"filter":"datum.s=='a'&&datum.e=='Zn'"}],"mark":{"type":"line","interpolate":"catmull-rom","stroke":"#7171a0","strokeWidth":1,"clip":true},"encoding":{"y":{"field":"v","type":"quantitative","axis":null},"x":{"field":"f","type":"quantitative","axis":null},"order":{"field":"v","type":"quantitative"}}}]},
 {"width":266,"height":119,"layer":[
  {"data":{"name":"bars"},"transform":[{"filter":"datum.s=='b'&&datum.e=='Zn'"}],"mark":{"type":"bar","orient":"horizontal","fill":"#c6c6c6","stroke":"#505050","strokeWidth":1,"clip":true},"encoding":{"y":{"field":"y0","type":"quantitative","scale":{"domain":[13.6,237.6],"nice":false,"zero":false},"axis":null},"y2":{"field":"y1"},"x":{"field":"n","type":"quantitative","scale":{"domain":[0,13.17],"nice":false},"axis":null}}},
  {"data":{"name":"curves"},"transform":[{"filter":"datum.s=='b'&&datum.e=='Zn'"}],"mark":{"type":"line","interpolate":"catmull-rom","stroke":"#7171a0","strokeWidth":1,"clip":true},"encoding":{"y":{"field":"v","type":"quantitative","axis":null},"x":{"field":"f","type":"quantitative","axis":null},"order":{"field":"v","type":"quantitative"}}}]},
 {"width":262,"height":119,"layer":[
  {"data":{"name":"bars"},"transform":[{"filter":"datum.s=='c'&&datum.e=='Zn'"}],"mark":{"type":"bar","orient":"horizontal","fill":"#c6c6c6","stroke":"#505050","strokeWidth":1,"clip":true},"encoding":{"y":{"field":"y0","type":"quantitative","scale":{"domain":[13.6,237.6],"nice":false,"zero":false},"axis":null},"y2":{"field":"y1"},"x":{"field":"n","type":"quantitative","scale":{"domain":[0,20],"nice":false},"axis":null}}},
  {"data":{"name":"curves"},"transform":[{"filter":"datum.s=='c'&&datum.e=='Zn'"}],"mark":{"type":"line","interpolate":"catmull-rom","stroke":"#7171a0","strokeWidth":1,"clip":true},"encoding":{"y":{"field":"v","type":"quantitative","axis":null},"x":{"field":"f","type":"quantitative","axis":null},"order":{"field":"v","type":"quantitative"}}}]},

 {"width":84,"height":27,"view":{"stroke":null},"data":{"values":[{"t":""}]},"mark":"text","encoding":{"text":{"field":"t"}}},
 {"width":263,"height":27,"data":{"values":[{"x":0}]},"mark":{"type":"point","opacity":0},"encoding":{"x":{"field":"x","type":"quantitative","scale":{"domain":[0,15.1],"nice":false},"axis":{"values":[5,10],"offset":-27,"title":null,"labelOffset":4}}}},
 {"width":266,"height":27,"data":{"values":[{"x":0}]},"mark":{"type":"point","opacity":0},"encoding":{"x":{"field":"x","type":"quantitative","scale":{"domain":[0,13.17],"nice":false},"axis":{"values":[5,10],"offset":-27,"title":null,"labelOffset":4}}}},
 {"width":262,"height":27,"data":{"values":[{"x":0}]},"mark":{"type":"point","opacity":0},"encoding":{"x":{"field":"x","type":"quantitative","scale":{"domain":[0,20],"nice":false},"axis":{"values":[10,20],"offset":-27,"title":null}}}}
]
}
